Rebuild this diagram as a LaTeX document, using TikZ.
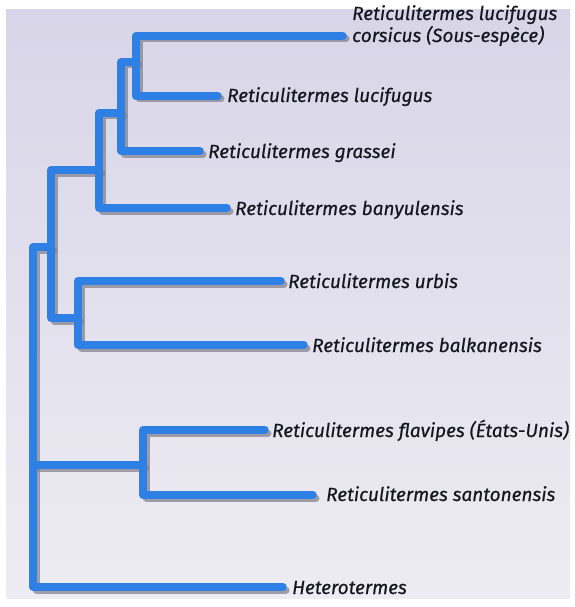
\documentclass[tikz,border=0pt]{standalone}
\usepackage{fontspec}
\setmainfont{Fira Sans}[ItalicFeatures={FakeBold=0.5}]
\definecolor{bgtop}{HTML}{D8D5E8}
\definecolor{bgbot}{HTML}{EDECF2}
\definecolor{branch}{HTML}{2F80E4}
\definecolor{shade}{HTML}{85838F}
\definecolor{labeltxt}{HTML}{16161E}
\tikzset{
  branchline/.style={draw=branch, line width=7.5pt, line cap=round, line join=round},
  shadowline/.style={draw=shade, line width=7pt, line cap=round, line join=round, opacity=0.75,
    transform canvas={shift={(3pt,-3pt)}}},
  taxon/.style={anchor=base west, inner sep=0pt, font=\itshape\fontsize{19}{22}\selectfont, text=labeltxt, align=left},
}
\newcommand{\treepaths}[1]{%
  \draw[#1] (e1) -| (nA |- e2) -- (e2);
  \draw[#1] (nA) -| (nB |- e3) -- (e3);
  \draw[#1] (nB) -| (nC |- e4) -- (e4);
  \draw[#1] (nC) -| (nD |- nE) -- (nE);
  \draw[#1] (e5) -| (nE |- e6) -- (e6);
  \draw[#1] (nD) -| (root |- e9) -- (e9);
  \draw[#1] (root) -- (nF);
  \draw[#1] (e7) -| (nF |- e8) -- (e8);}
\begin{document}
\begin{tikzpicture}[x=1pt,y=-1pt]
\useasboundingbox (0,0) rectangle (574,607);
\fill[white] (0,0) rectangle (574,607);
\shade[top color=bgtop, bottom color=bgbot] (6,10) rectangle (570,598);

% leaves (line ends)
\coordinate (e1) at (343,36);
\coordinate (e2) at (218,96);
\coordinate (e3) at (200,151);
\coordinate (e4) at (227,208);
\coordinate (e5) at (281,281);
\coordinate (e6) at (304,345);
\coordinate (e7) at (265,430);
\coordinate (e8) at (313,495);
\coordinate (e9) at (283,587);

% internal nodes
\coordinate (nA) at (136,62);
\coordinate (nB) at (121,113);
\coordinate (nC) at (99,170);
\coordinate (nD) at (51,247);
\coordinate (nE) at (78,318);
\coordinate (nF) at (143,465);
\coordinate (root) at (33,465);

% branches: shadows first, then blue
\treepaths{shadowline}
\treepaths{branchline}

% labels
\node[taxon] (t1) at (352,42) {Reticulitermes lucifugus\\corsicus (Sous-espèce)};
\node[taxon] (t2) at (227,102) {Reticulitermes lucifugus};
\node[taxon] (t3) at (208,158) {Reticulitermes grassei};
\node[taxon] (t4) at (235,215) {Reticulitermes banyulensis};
\node[taxon] (t5) at (288,288) {Reticulitermes urbis};
\node[taxon] (t6) at (312,352) {Reticulitermes balkanensis};
\node[taxon] (t7) at (272,437) {Reticulitermes flavipes (États-Unis)};
\node[taxon] (t8) at (326,501) {Reticulitermes santonensis};
\node[taxon] (t9) at (292,594) {Heterotermes};
\end{tikzpicture}
\end{document}
